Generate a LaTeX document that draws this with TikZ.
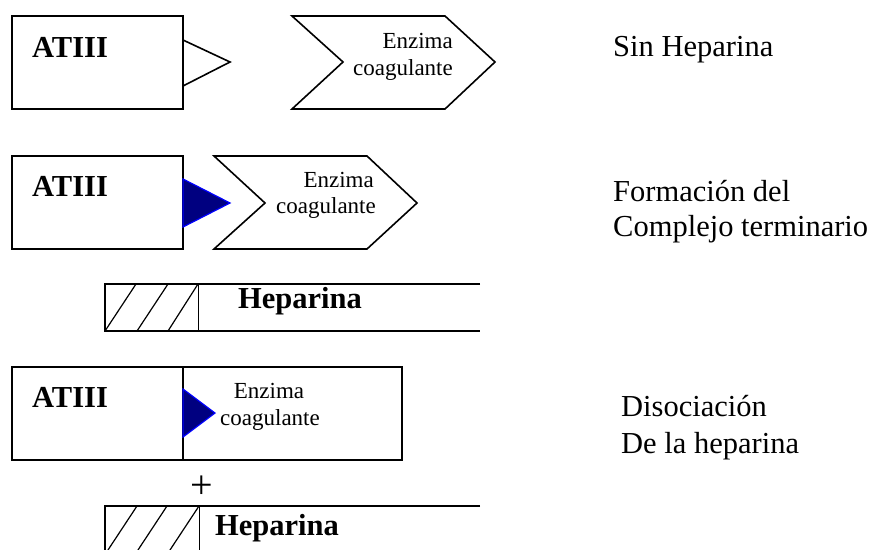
\documentclass[tikz,border=0pt]{standalone}
\usepackage{fontspec}
\setmainfont{Liberation Serif}
\definecolor{tipfill}{RGB}{0,0,128}
\definecolor{tipedge}{RGB}{0,0,255}
\begin{document}
\begin{tikzpicture}[x=1pt,y=-1pt,
  outline/.style={line width=1.6pt, line join=miter},
  thinline/.style={line width=1pt},
  hatch/.style={line width=1.2pt},
  big/.style={font=\fontsize{30.5}{35}\selectfont, inner sep=0pt, anchor=base west},
  bigbold/.style={font=\fontsize{30.5}{35}\selectfont\bfseries, inner sep=0pt, anchor=base west},
  small/.style={font=\fontsize{23}{27}\selectfont, inner sep=0pt},
  site/.style={fill=tipfill, draw=tipedge, line width=1.2pt, line join=miter},
]
\useasboundingbox (0,0) rectangle (874,549);
\clip (0,0) rectangle (874,549);

% --- Stage 1: free ATIII and free clotting enzyme
\draw[outline] (12,16) rectangle (183,109);
\draw[outline] (183,40) -- (230,62) -- (183,86);
\node[bigbold] (at1) at (32,57) {ATIII};
\draw[outline] (292,16) -- (445,16) -- (495,62) -- (445,109) -- (292,109) -- (343,62) -- cycle;
\node[small, anchor=base east] (enz1a) at (453,48) {Enzima};
\node[small, anchor=base east] (enz1b) at (453,75) {coagulante};
\node[big] (lab1) at (613,56) {Sin Heparina};

% --- Stage 2: complex formed on heparin
\draw[outline] (12,156) rectangle (183,249);
\draw[site] (183,179) -- (230,203) -- (183,227) -- cycle;
\node[bigbold] (at2) at (32,196) {ATIII};
\draw[outline] (214,156) -- (367,156) -- (417,203) -- (367,249) -- (214,249) -- (265,203) -- cycle;
\node[small, anchor=base east] (enz2a) at (374,187) {Enzima};
\node[small, anchor=base east] (enz2b) at (376,213) {coagulante};
\node[big] (lab2a) at (613,201) {Formación del};
\node[big] (lab2b) at (613,236) {Complejo terminario};

% heparin chain under the complex
\draw[hatch] (480,284) -- (105,284) -- (105,331) -- (480,331);
\draw[thinline] (198,284) -- (198,331);
\foreach \bx/\tx in {105/136, 137/168, 168/198}
  \draw[hatch] (\bx,331) -- (\tx,284);
\node[bigbold] (hep1) at (238,308) {Heparina};

% --- Stage 3: heparin released from the complex
\draw[outline] (12,367) rectangle (183,460);
\draw[outline] (183,367) rectangle (402,460);
\draw[site] (183,389) -- (215,413) -- (183,437) -- cycle;
\node[bigbold] (at3) at (32,407) {ATIII};
\node[small, anchor=base] (enz3a) at (269,398) {Enzima};
\node[small, anchor=base] (enz3b) at (270,425) {coagulante};
\node[big] (lab3a) at (621,416) {Disociación};
\node[big] (lab3b) at (621,453) {De la heparina};

\node[font=\fontsize{40}{44}\selectfont, inner sep=0pt] (plus) at (202,487) {+};

% released heparin chain
\draw[hatch] (480,506) -- (105,506) -- (105,553) -- (480,553);
\draw[thinline] (199,506) -- (199,553);
\foreach \bx/\tx in {106/137, 136/167, 168/199}
  \draw[hatch] (\bx,553) -- (\tx,506);
\node[bigbold] (hep2) at (215,535) {Heparina};
\end{tikzpicture}
\end{document}
